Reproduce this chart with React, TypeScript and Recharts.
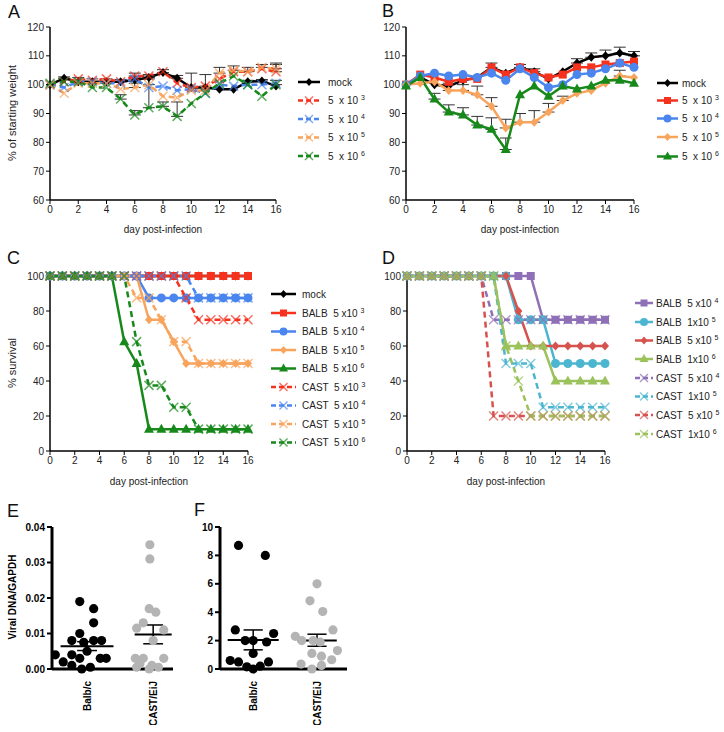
import React from 'react'
import { LineChart, Line, XAxis, YAxis, ErrorBar, ScatterChart, Scatter, ReferenceLine } from 'recharts'

const days = [0, 1, 2, 3, 4, 5, 6, 7, 8, 9, 10, 11, 12, 13, 14, 15, 16]
const dayTicks = [0, 2, 4, 6, 8, 10, 12, 14, 16]
const weightTicks = [60, 70, 80, 90, 100, 110, 120]
const survTicks = [0, 20, 40, 60, 80, 100]

// A: weight, CAST/EiJ
const aMock = [100, 102.2, 101, 101, 101, 101, 101.6, 102.5, 104.2, 102.2, 99, 99, 98.4, 98.4, 101, 101.3, 99.5]
const a3 = [100, 101, 102, 101.5, 102, 101, 103, 103, 104.5, 100.5, 99, 99.5, 102, 104.5, 104.5, 105.5, 104.5]
const a4 = [100, 99, 101, 101, 100.5, 100.5, 102, 99, 99.5, 98, 98.5, 97, 100, 99.5, 100, 100, 100.5]
const a5 = [100, 97, 100.5, 100.5, 100.5, 98.5, 99, 100, 96, 95.5, 98, 98, 104, 105, 104.5, 106, 105.5]
const a6 = [100.5, 101, 101, 99, 99, 95, 89.5, 92, 92.5, 89, 93.5, 97, 100.5, 103, 100, 96, 100]
const aMockErr = [0, 0.5, 1.5, 1, 1, 0.8, 1, 1, 1, 1, 0, 0, 0, 0, 0.5, 0.5, 0]
const a3Err = [0, 0, 0, 0, 0, 0, 1, 0, 0, 0, 5, 4, 0, 0, 0, 0, 2.5]
const a5Err = [0, 0, 0, 0, 0, 0, 1.5, 2, 0, 0, 0, 0, 2, 1.5, 1.5, 1, 2]
const a6Err = [0, 0, 0, 0, 0, 1.5, 1.5, 11, 1.5, 5, 0, 0, 0, 0, 0, 0, 1.5]

// B: weight, Balb/c
const bMock = [100, 102.5, 100, 99.5, 101.5, 102.5, 106, 104, 106, 104.5, 102, 104.5, 107.5, 109.5, 110, 111, 110]
const b3 = [100, 103.5, 102.5, 101, 102, 102, 106, 103.5, 106, 104, 102.5, 103.5, 106, 106, 107, 107.5, 108]
const b4 = [100, 103, 104, 103, 103.5, 102.5, 104, 101.5, 105.5, 102.5, 99, 100, 103.5, 104, 105.5, 107.5, 106]
const b5 = [100, 100.5, 101, 98, 98, 96.5, 92.5, 85, 87, 87, 90.5, 94.5, 97, 98, 100.5, 103, 102.5]
const b6 = [99.5, 102.5, 95, 90.5, 89.5, 86, 84.5, 77.5, 96.5, 99.5, 96, 99.5, 98.5, 99.5, 101.5, 101.5, 100.5]
const bMockErr = [0, 0, 0, 0, 0, 0, 1.5, 0, 1, 1, 0, 0, 1.5, 1.5, 2, 2, 1.5]
const b5Err = [0, 0, 0, 2.5, 2, 3, 3, 3, 3, 4, 3, 1.5, 0, 0, 0, 2, 0]
const b6Err = [0, 0, 2, 2.5, 2.5, 3, 4, 4, 0, 0, 0, 0, 0, 0, 0, 0, 0]

// C: survival
const cMock = [100, 100, 100, 100, 100, 100, 100, 100, 100, 100, 100, 100, 100, 100, 100, 100, 100]
const cB3 = [100, 100, 100, 100, 100, 100, 100, 100, 100, 100, 100, 100, 100, 100, 100, 100, 100]
const cB4 = [100, 100, 100, 100, 100, 100, 100, 100, 87.5, 87.5, 87.5, 87.5, 87.5, 87.5, 87.5, 87.5, 87.5]
const cB5 = [100, 100, 100, 100, 100, 100, 100, 100, 75, 75, 62.5, 50, 50, 50, 50, 50, 50]
const cB6 = [100, 100, 100, 100, 100, 100, 62.5, 50, 12.5, 12.5, 12.5, 12.5, 12.5, 12.5, 12.5, 12.5, 12.5]
const cC3 = [100, 100, 100, 100, 100, 100, 100, 100, 100, 100, 100, 87.5, 75, 75, 75, 75, 75]
const cC4 = [100, 100, 100, 100, 100, 100, 100, 100, 100, 100, 100, 100, 87.5, 87.5, 87.5, 87.5, 87.5]
const cC5 = [100, 100, 100, 100, 100, 100, 100, 87.5, 87.5, 75, 62.5, 62.5, 50, 50, 50, 50, 50]
const cC6 = [100, 100, 100, 100, 100, 100, 100, 62.5, 37.5, 37.5, 25, 25, 12.5, 12.5, 12.5, 12.5, 12.5]

// D: survival
const dB4 = [100, 100, 100, 100, 100, 100, 100, 100, 100, 100, 100, 75, 75, 75, 75, 75, 75]
const dB1e5 = [100, 100, 100, 100, 100, 100, 100, 100, 100, 75, 75, 75, 50, 50, 50, 50, 50]
const dB5e5 = [100, 100, 100, 100, 100, 100, 100, 100, 100, 80, 60, 60, 60, 60, 60, 60, 60]
const dB1e6 = [100, 100, 100, 100, 100, 100, 100, 100, 60, 60, 60, 60, 40, 40, 40, 40, 40]
const dC4 = [100, 100, 100, 100, 100, 100, 100, 75, 75, 75, 75, 75, 75, 75, 75, 75, 75]
const dC1e5 = [100, 100, 100, 100, 100, 100, 100, 100, 50, 50, 50, 25, 25, 25, 25, 25, 25]
const dC5e5 = [100, 100, 100, 100, 100, 100, 100, 20, 20, 20, 20, 20, 20, 20, 20, 20, 20]
const dC1e6 = [100, 100, 100, 100, 100, 100, 100, 100, 60, 40, 20, 20, 20, 20, 20, 20, 20]

// E / F: dot plots
const groups = ['Balb/c', 'CAST/EiJ']
const eBalbX = [0.89, 1.1, 1.1, 0.89, 0.77, 1.1, 1.22, 0.95, 1.0, 0.52, 0.77, 0.89, 1.2, 1.29, 0.64, 0.77, 1.05, 0.92]
const eBalbY = [0.019, 0.017, 0.013, 0.01, 0.008, 0.008, 0.008, 0.0075, 0.005, 0.004, 0.004, 0.003, 0.003, 0.003, 0.002, 0.001, 0.0005, 0]
const eCastX = [1.95, 1.95, 1.94, 2.04, 1.85, 2.16, 1.75, 2.0, 1.73, 1.85, 2.16, 1.8, 1.98, 2.08, 1.75, 1.94]
const eCastY = [0.035, 0.031, 0.017, 0.016, 0.013, 0.011, 0.0115, 0.008, 0.003, 0.003, 0.003, 0.0015, 0.001, 0.0005, 0.0005, 0]
const eMean = [0.0064, 0.0097]
const eSemLo = [0.0052, 0.0071]
const eSemHi = [0.0077, 0.0124]
const fBalbX = [0.77, 1.19, 0.72, 1.32, 0.875, 1.0, 1.21, 1.0, 0.64, 0.77, 1.24, 0.9, 1.0, 1.11]
const fBalbY = [8.7, 8.0, 2.75, 2.5, 2.0, 2.0, 1.9, 1.1, 0.6, 0.5, 0.5, 0.15, 0, 0.2]
const fCastX = [2.0, 1.89, 2.09, 1.66, 2.25, 1.76, 1.94, 2.05, 2.32, 1.92, 2.07, 2.23, 1.75, 2.07, 1.92]
const fCastY = [6.0, 4.8, 4.05, 2.3, 2.75, 2.0, 2.0, 1.9, 1.3, 1.1, 0.9, 0.65, 0.35, 0.25, 0]
const fMean = [2.05, 2.0]
const fSemLo = [1.35, 1.6]
const fSemHi = [2.75, 2.45]

const BLACK = '#000'
const RED = '#f5321e'
const BLUE = '#4a86ee'
const ORANGE = '#f8a45c'
const GREEN = '#16891a'
const PURPLE = '#8f70b6'
const CYAN = '#4cb6d0'
const DRED = '#d6524e'
const LGREEN = '#9bc25b'
const GRAY = '#b4b4b4'

type Shape = 'diamond' | 'square' | 'circle' | 'triangle' | 'x'
type Series = { key: string; values: number[]; color: string; shape: Shape; dashed?: boolean; label: string; sup?: string; err?: number[] }

const aSeries: Series[] = [
  { key: 'mock', values: aMock, color: BLACK, shape: 'diamond', label: 'mock', err: aMockErr },
  { key: 's3', values: a3, color: RED, shape: 'x', dashed: true, label: '5  x 10', sup: '3', err: a3Err },
  { key: 's4', values: a4, color: BLUE, shape: 'x', dashed: true, label: '5  x 10', sup: '4' },
  { key: 's5', values: a5, color: ORANGE, shape: 'x', dashed: true, label: '5  x 10', sup: '5', err: a5Err },
  { key: 's6', values: a6, color: GREEN, shape: 'x', dashed: true, label: '5  x 10', sup: '6', err: a6Err },
]
const bSeries: Series[] = [
  { key: 'mock', values: bMock, color: BLACK, shape: 'diamond', label: 'mock', err: bMockErr },
  { key: 's3', values: b3, color: RED, shape: 'square', label: '5  x 10', sup: '3' },
  { key: 's4', values: b4, color: BLUE, shape: 'circle', label: '5  x 10', sup: '4' },
  { key: 's5', values: b5, color: ORANGE, shape: 'diamond', label: '5  x 10', sup: '5', err: b5Err },
  { key: 's6', values: b6, color: GREEN, shape: 'triangle', label: '5  x 10', sup: '6', err: b6Err },
]
const cSeries: Series[] = [
  { key: 'mock', values: cMock, color: BLACK, shape: 'diamond', label: 'mock' },
  { key: 'b3', values: cB3, color: RED, shape: 'square', label: 'BALB  5 x10', sup: '3' },
  { key: 'b4', values: cB4, color: BLUE, shape: 'circle', label: 'BALB  5 x10', sup: '4' },
  { key: 'b5', values: cB5, color: ORANGE, shape: 'diamond', label: 'BALB  5 x10', sup: '5' },
  { key: 'b6', values: cB6, color: GREEN, shape: 'triangle', label: 'BALB  5 x10', sup: '6' },
  { key: 'c3', values: cC3, color: RED, shape: 'x', dashed: true, label: 'CAST  5 x10', sup: '3' },
  { key: 'c4', values: cC4, color: BLUE, shape: 'x', dashed: true, label: 'CAST  5 x10', sup: '4' },
  { key: 'c5', values: cC5, color: ORANGE, shape: 'x', dashed: true, label: 'CAST  5 x10', sup: '5' },
  { key: 'c6', values: cC6, color: GREEN, shape: 'x', dashed: true, label: 'CAST  5 x10', sup: '6' },
]
const dSeries: Series[] = [
  { key: 'b4', values: dB4, color: PURPLE, shape: 'square', label: 'BALB  5 x10', sup: '4' },
  { key: 'b15', values: dB1e5, color: CYAN, shape: 'circle', label: 'BALB  1x10', sup: '5' },
  { key: 'b55', values: dB5e5, color: DRED, shape: 'diamond', label: 'BALB  5 x10', sup: '5' },
  { key: 'b16', values: dB1e6, color: LGREEN, shape: 'triangle', label: 'BALB  1x10', sup: '6' },
  { key: 'c4', values: dC4, color: PURPLE, shape: 'x', dashed: true, label: 'CAST  5 x10', sup: '4' },
  { key: 'c15', values: dC1e5, color: CYAN, shape: 'x', dashed: true, label: 'CAST  1x10', sup: '5' },
  { key: 'c55', values: dC5e5, color: DRED, shape: 'x', dashed: true, label: 'CAST  5 x10', sup: '5' },
  { key: 'c16', values: dC1e6, color: LGREEN, shape: 'x', dashed: true, label: 'CAST  1x10', sup: '6' },
]

function buildRows(series: Series[]) {
  return days.map((day, i) => {
    const row: any = { day }
    series.forEach((s) => {
      row[s.key] = s.values[i]
      if (s.err) row[s.key + 'E'] = s.err[i] ? [0, s.err[i]] : null
    })
    return row
  })
}

function Marker({ shape, cx, cy, color, size = 4 }: { shape: Shape; cx: number; cy: number; color: string; size?: number }) {
  if (shape === 'square') return <rect x={cx - size} y={cy - size} width={size * 2} height={size * 2} fill={color} />
  if (shape === 'circle') return <circle cx={cx} cy={cy} r={size + 0.5} fill={color} />
  if (shape === 'diamond')
    return <polygon points={`${cx},${cy - size - 0.5} ${cx + size},${cy} ${cx},${cy + size + 0.5} ${cx - size},${cy}`} fill={color} />
  if (shape === 'triangle')
    return <polygon points={`${cx},${cy - size - 1.5} ${cx + size + 1},${cy + size - 0.5} ${cx - size - 1},${cy + size - 0.5}`} fill={color} />
  const r = size + 0.5
  return (
    <g stroke={color} strokeWidth={1.5} opacity={0.7}>
      <line x1={cx - r} y1={cy - r} x2={cx + r} y2={cy + r} />
      <line x1={cx - r} y1={cy + r} x2={cx + r} y2={cy - r} />
    </g>
  )
}

const dotFor = (s: Series) => (p: any) =>
  p.cx == null || p.cy == null ? <g key={p.index} /> : <Marker key={p.index} shape={s.shape} cx={p.cx} cy={p.cy} color={s.color} />

const tickStyle = { fontSize: 10, fill: '#222' }
const axisStyle = { stroke: '#000', strokeWidth: 1.5 }

function TimePanel({ series, left, top, width, height, marginTop, marginRight, yDomain, yTicks }: any) {
  const rows = buildRows(series)
  return (
    <div style={{ position: 'absolute', left, top }}>
      <LineChart width={width} height={height} data={rows} margin={{ top: marginTop, right: marginRight, left: 0, bottom: 0 }}>
        <XAxis dataKey="day" type="number" domain={[0, 16]} ticks={dayTicks} height={40} tick={tickStyle}
          axisLine={axisStyle} tickLine={{ stroke: '#000' }} tickSize={4} interval={0} />
        <YAxis type="number" domain={yDomain} ticks={yTicks} width={50} tick={tickStyle}
          axisLine={axisStyle} tickLine={{ stroke: '#000' }} tickSize={4} interval={0} />
        {series.map((s: Series) => (
          <Line key={s.key} dataKey={s.key} type="linear" stroke={s.color} strokeWidth={2.5}
            strokeDasharray={s.dashed ? '6 4' : undefined} dot={dotFor(s)} activeDot={false} isAnimationActive={false}>
            {s.err ? <ErrorBar dataKey={s.key + 'E'} width={6} stroke="#333" strokeWidth={1} direction="y" /> : null}
          </Line>
        ))}
      </LineChart>
    </div>
  )
}

function DotPanel({ left, top, width, yAxisWidth, xDomain, yDomain, yTicks, fmt, balb, cast, mean, lo, hi, meanHw }: any) {
  const circle = (fill: string) => (p: any) => <circle cx={p.cx} cy={p.cy} r={4.6} fill={fill} />
  const rotTick = (p: any) => (
    <text x={p.x} y={p.y + 4} transform={`rotate(-90, ${p.x}, ${p.y + 4})`} textAnchor="end" dy="0.35em"
      fontSize={10} fontWeight="bold" fill="#000">{groups[p.payload.value - 1]}</text>
  )
  return (
    <div style={{ position: 'absolute', left, top }}>
      <ScatterChart width={width} height={215} margin={{ top: 17, right: 13, left: 0, bottom: 0 }}>
        <XAxis dataKey="x" type="number" domain={xDomain} ticks={[1, 2]} height={56} tick={rotTick}
          axisLine={{ stroke: '#000', strokeWidth: 3 }} tickLine={false} allowDataOverflow interval={0} />
        <YAxis dataKey="y" type="number" domain={yDomain} ticks={yTicks} width={yAxisWidth} tickFormatter={fmt}
          tick={{ fontSize: 10, fontWeight: 'bold', fill: '#000' }} axisLine={{ stroke: '#000', strokeWidth: 3 }}
          tickLine={{ stroke: '#000', strokeWidth: 2 }} tickSize={5} interval={0} />
        <Scatter data={balb} shape={circle('#000')} isAnimationActive={false} />
        <Scatter data={cast} shape={circle(GRAY)} isAnimationActive={false} />
        {[0, 1].map((g) => (
          <React.Fragment key={g}>
            <ReferenceLine segment={[{ x: g + 1 - meanHw[g], y: mean[g] }, { x: g + 1 + meanHw[g], y: mean[g] }]} stroke="#000" strokeWidth={2} ifOverflow="visible" />
            <ReferenceLine segment={[{ x: g + 1, y: lo[g] }, { x: g + 1, y: hi[g] }]} stroke="#000" strokeWidth={1.5} ifOverflow="visible" />
            <ReferenceLine segment={[{ x: g + 0.85, y: lo[g] }, { x: g + 1.15, y: lo[g] }]} stroke="#000" strokeWidth={1.5} ifOverflow="visible" />
            <ReferenceLine segment={[{ x: g + 0.85, y: hi[g] }, { x: g + 1.15, y: hi[g] }]} stroke="#000" strokeWidth={1.5} ifOverflow="visible" />
          </React.Fragment>
        ))}
      </ScatterChart>
    </div>
  )
}

function Legend({ series, x, textX, rows, lineLen }: { series: Series[]; x: number; textX: number; rows: number[]; lineLen: number }) {
  return (
    <g>
      {series.map((s, i) => (
        <g key={s.key + i}>
          <line x1={x} y1={rows[i]} x2={x + lineLen} y2={rows[i]} stroke={s.color} strokeWidth={2.5} strokeDasharray={s.dashed ? '5 3' : undefined} />
          <Marker shape={s.shape} cx={x + lineLen / 2} cy={rows[i]} color={s.color} size={3.5} />
          <text x={textX} y={rows[i] + 3.5} fontSize={10} fill="#222" style={{ whiteSpace: 'pre' }}>
            {s.label}
            {s.sup ? <tspan dx={3} dy={-4} fontSize={7}>{s.sup}</tspan> : null}
          </text>
        </g>
      ))}
    </g>
  )
}

export default function App() {
  const eBalb = eBalbX.map((x, i) => ({ x, y: eBalbY[i] }))
  const eCast = eCastX.map((x, i) => ({ x, y: eCastY[i] }))
  const fBalb = fBalbX.map((x, i) => ({ x, y: fBalbY[i] }))
  const fCast = fCastX.map((x, i) => ({ x, y: fCastY[i] }))
  const letter = { fontSize: 18, fill: '#111' }
  const title = { fontSize: 10, fill: '#222' }
  return (
    <div style={{ position: 'absolute', left: 0, top: 0, width: 724, height: 732, background: '#fff', fontFamily: '"Liberation Sans", Arial, sans-serif' }}>
      <TimePanel series={aSeries} left={0} top={0} width={290} height={240} marginTop={27} marginRight={14} yDomain={[60, 120]} yTicks={weightTicks} />
      <TimePanel series={bSeries} left={356} top={0} width={290} height={240} marginTop={27} marginRight={12} yDomain={[60, 120]} yTicks={weightTicks} />
      <TimePanel series={cSeries} left={0} top={250} width={270} height={241} marginTop={26} marginRight={22} yDomain={[0, 100]} yTicks={survTicks} />
      <TimePanel series={dSeries} left={357} top={250} width={270} height={241} marginTop={26} marginRight={22} yDomain={[0, 100]} yTicks={survTicks} />
      <DotPanel left={0} top={510} width={186} yAxisWidth={52} xDomain={[0.47, 2.3]} yDomain={[0, 0.04]}
        yTicks={[0, 0.01, 0.02, 0.03, 0.04]} fmt={(v: number) => v.toFixed(2)} balb={eBalb} cast={eCast}
        mean={eMean} lo={eSemLo} hi={eSemHi} meanHw={[0.4, 0.28]} />
      <DotPanel left={170} top={510} width={190} yAxisWidth={50} xDomain={[0.48, 2.47]} yDomain={[0, 10]}
        yTicks={[0, 2, 4, 6, 8, 10]} fmt={(v: number) => String(v)} balb={fBalb} cast={fCast}
        mean={fMean} lo={fSemLo} hi={fSemHi} meanHw={[0.4, 0.31]} />
      <svg width={724} height={732} style={{ position: 'absolute', left: 0, top: 0, pointerEvents: 'none' }}>
        <text x={8} y={18} {...letter}>A</text>
        <text x={382} y={17} {...letter}>B</text>
        <text x={7} y={264} {...letter}>C</text>
        <text x={382} y={264} {...letter}>D</text>
        <text x={7} y={517} {...letter}>E</text>
        <text x={194} y={516} {...letter}>F</text>

        <text transform="translate(16,113) rotate(-90)" textAnchor="middle" {...title} fontSize={11}>% of starting weight</text>
        <text transform="translate(16,363) rotate(-90)" textAnchor="middle" {...title} fontSize={11}>% survival</text>
        <text transform="translate(16,597) rotate(-90)" textAnchor="middle" fontSize={10} fontWeight="bold" fill="#000">Viral DNA/GAPDH</text>
        <text x={163} y={233} textAnchor="middle" {...title}>day post-infection</text>
        <text x={520} y={233} textAnchor="middle" {...title}>day post-infection</text>
        <text x={149} y={485} textAnchor="middle" {...title}>day post-infection</text>
        <text x={506} y={485} textAnchor="middle" {...title}>day post-infection</text>

        <Legend series={aSeries} x={298} textX={328} lineLen={22} rows={[82, 100.5, 119, 137.5, 156]} />
        <Legend series={bSeries} x={657} textX={682} lineLen={21} rows={[83, 100.5, 118.5, 137, 156.5]} />
        <Legend series={cSeries} x={271} textX={302} lineLen={25} rows={[294, 313, 331.5, 350, 368.5, 387, 405.5, 424, 442.5]} />
        <Legend series={dSeries} x={635} textX={656} lineLen={18} rows={[303, 322, 340.5, 359, 378, 396.5, 415, 434]} />
      </svg>
    </div>
  )
}
